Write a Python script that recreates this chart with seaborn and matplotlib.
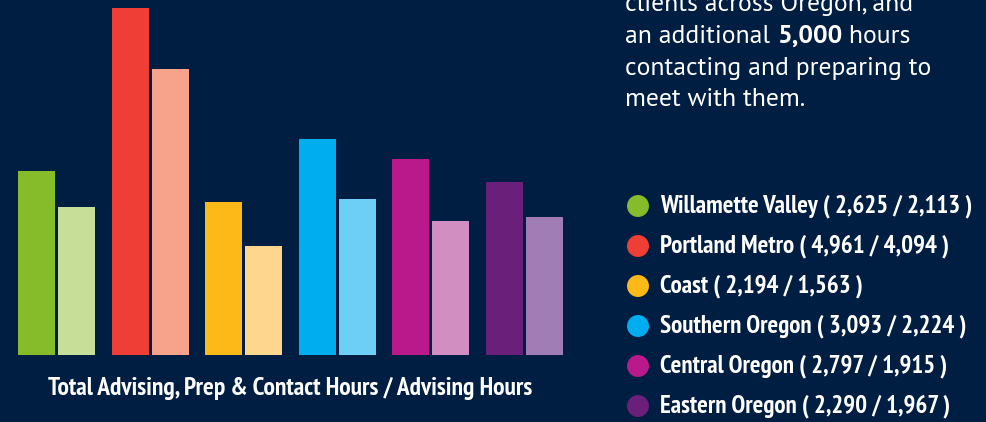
import numpy as np
import pandas as pd
import seaborn as sns
import matplotlib.pyplot as plt

regions = ["Willamette Valley", "Portland Metro", "Coast",
           "Southern Oregon", "Central Oregon", "Eastern Oregon"]
total_hours = [2625, 4961, 2194, 3093, 2797, 2290]
advising_hours = [2113, 4094, 1563, 2224, 1915, 1967]
# bar heights as drawn in the original (Eastern Oregon's total bar stands taller than its label)
total_bars = [2625, 4961, 2194, 3093, 2797, 2470]
advising_bars = [2113, 4094, 1563, 2224, 1915, 1967]
dark_colors = ["#86bb2a", "#ef3e36", "#fdb918", "#00aeef", "#b9198a", "#6a1f7a"]
light_colors = ["#c7de98", "#f7a28b", "#fed68e", "#6dcff6", "#d18fc1", "#a07db5"]

intro_lines = ["clients across Oregon, and",
               ["an additional ", "5,000", " hours"],
               "contacting and preparing to",
               "meet with them."]
xlabel = "Total Advising, Prep & Contact Hours / Advising Hours"

BG = "#001e42"
NARROW = ["PT Sans Narrow", "DejaVu Sans"]
REGULAR = ["PT Sans", "Open Sans", "DejaVu Sans"]

df = pd.DataFrame({
    "region": regions * 2,
    "hours": total_bars + advising_bars,
    "kind": ["total"] * 6 + ["advising"] * 6,
})

sns.set_theme(style="white")
fig = plt.figure(figsize=(9.87, 4.22), dpi=100, facecolor=BG)
ax = fig.add_axes([0, 67 / 422, 580 / 987, 355 / 422])
ax.set_facecolor(BG)

sns.barplot(data=df, x="region", y="hours", hue="kind", order=regions,
            hue_order=["total", "advising"], width=0.855, gap=0.077,
            legend=False, ax=ax)
# seaborn colours by hue, here every region has its own pair
for i, p in enumerate(ax.patches[:12]):
    cols = dark_colors if i < 6 else light_colors
    p.set_facecolor(cols[i % 6])
    p.set_edgecolor("none")

ax.set_xlim(-0.604, 5.593)
ax.set_ylim(0, max(total_bars) * 355 / 347)
ax.axis("off")

fig.text(290 / 987, 1 - 388 / 422, xlabel, color="white", fontsize=18.4,
         fontweight="bold", family=NARROW, ha="center", va="center")

# intro paragraph, one bold number inside
fig.canvas.draw()
r = fig.canvas.get_renderer()
for k, line in enumerate(intro_lines):
    yb = 1 - (11.5 + 31.5 * k) / 422
    parts = [line] if isinstance(line, str) else line
    x = 625 / 987
    for j, part in enumerate(parts):
        t = fig.text(x, yb, part, color="white", fontsize=18.5, family=REGULAR,
                     fontweight="bold" if j == 1 else "normal", va="baseline")
        bb = t.get_window_extent(renderer=r)
        x += bb.width / 987

# legend
lax = fig.add_axes([600 / 987, 0, 387 / 987, 1])
lax.set_xlim(600, 987)
lax.set_ylim(422, 0)
lax.axis("off")
for k, name in enumerate(regions):
    y = 206 + 40 * k
    lax.scatter([638], [y], s=250, color=dark_colors[k], edgecolors="none")
    lax.text(660, y, f"{name} ( {total_hours[k]:,} / {advising_hours[k]:,} )",
             color="white", fontsize=18, fontweight="bold", family=NARROW,
             va="center", ha="left")

fig.savefig("out.png", dpi=100, facecolor=BG)
